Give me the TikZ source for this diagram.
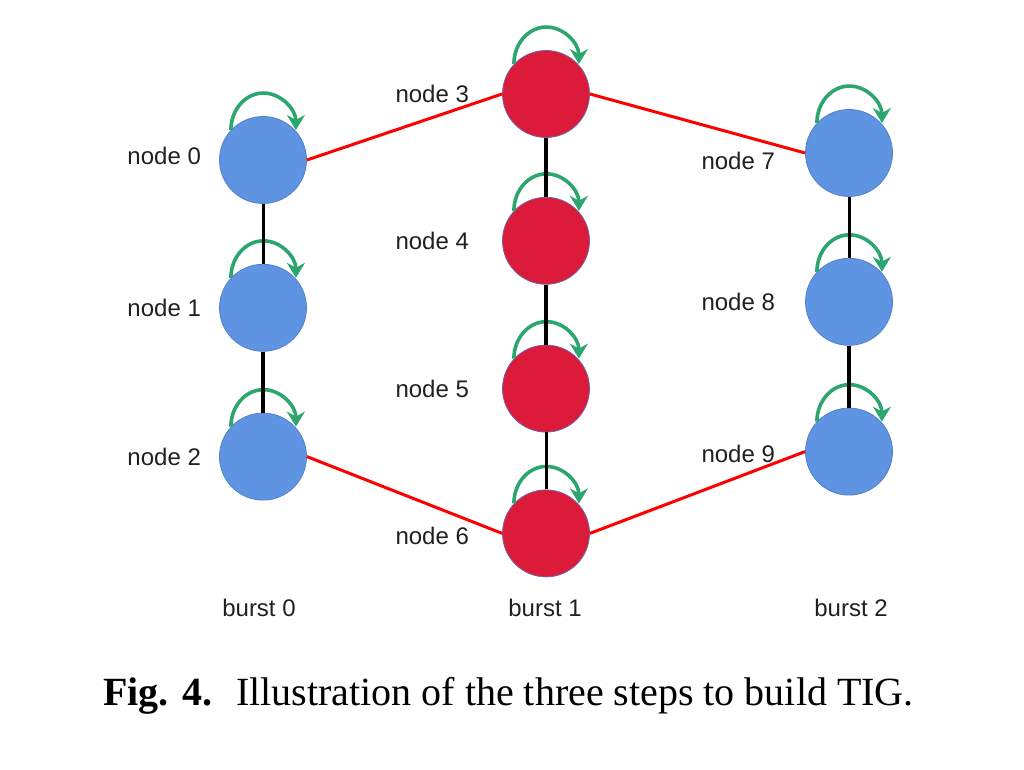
\documentclass[tikz,border=0pt]{standalone}
\usepackage{fontspec}
\setmainfont{Liberation Serif}
\newfontfamily\arialfont{Liberation Sans}
\usetikzlibrary{arrows.meta,positioning}

\definecolor{burstblue}{RGB}{94,148,226}
\definecolor{burstblueedge}{RGB}{82,128,205}
\definecolor{burstred}{RGB}{220,27,58}
\definecolor{burstrededge}{RGB}{112,100,160}
\definecolor{loopgreen}{RGB}{44,166,110}
\definecolor{labelgray}{RGB}{32,32,32}

\begin{document}
\begin{tikzpicture}[x=1pt,y=1pt,
node distance=60pt,
bluenode/.style={
  circle,
  minimum size=87pt,
  inner sep=0pt,
  fill=burstblue,
  draw=burstblueedge,
  line width=0.8pt
},
rednode/.style={
  circle,
  minimum size=87pt,
  inner sep=0pt,
  fill=burstred,
  draw=burstrededge,
  line width=0.8pt
},
lbl/.style={
  font=\arialfont\fontsize{24}{28}\selectfont,
  text=labelgray,
  inner sep=0pt
},
selfloop/.style={
  draw=loopgreen,
  line width=3.6pt,
  -{Stealth[length=15pt,width=18pt]}
},
vlink/.style={
  line width=3pt,
  black
},
vlinkthick/.style={
  line width=4.5pt,
  black
},
redlink/.style={
  line width=3pt,
  red
}]
\useasboundingbox (0,0) rectangle (1024,770);

% burst 0
\node[bluenode] (n0) at (263,610) {};
\node[bluenode] (n1) [below=of n0] {};
\node[bluenode] (n2) [below=61pt of n1] {};
% burst 1
\node[rednode] (n3) at (546,676) {};
\node[rednode] (n4) [below=59pt of n3] {};
\node[rednode] (n5) [below=of n4] {};
\node[rednode] (n6) [below=57pt of n5] {};
% burst 2
\node[bluenode] (n7) at (849,617) {};
\node[bluenode] (n8) [below=61pt of n7] {};
\node[bluenode] (n9) [below=62pt of n8] {};

% node labels
\node[lbl] (l0) [left=18pt of n0, yshift=4pt] {node 0};
\node[lbl] (l1) [left=18pt of n1] {node 1};
\node[lbl] (l2) [left=18pt of n2] {node 2};
\node[lbl] (l3) [left=33pt of n3] {node 3};
\node[lbl] (l4) [left=33pt of n4] {node 4};
\node[lbl] (l5) [left=33pt of n5] {node 5};
\node[lbl] (l6) [left=33pt of n6, yshift=-3pt] {node 6};
\node[lbl] (l7) [left=30pt of n7, yshift=-8pt] {node 7};
\node[lbl] (l8) [left=30pt of n8] {node 8};
\node[lbl] (l9) [left=30pt of n9, yshift=-2pt] {node 9};

% self loops
\foreach \i in {0,...,9}
  \draw[selfloop] (n\i.137) arc[start angle=180, end angle=0, x radius=32.5pt, y radius=37pt];

% links inside a burst
\draw[vlink] (n0) -- (n1);
\draw[vlinkthick] (n1) -- (n2);
\draw[vlinkthick] (n3) -- (n4);
\draw[vlinkthick] (n4) -- (n5);
\draw[vlink] (n5) -- (n6);
\draw[vlink] (n7) -- (n8);
\draw[vlinkthick] (n8) -- (n9);

% links between bursts
\draw[redlink] (n0.east) -- (n3.west);
\draw[redlink] (n3.east) -- (n7.west);
\draw[redlink] (n2.east) -- (n6.west);
\draw[redlink] (n6.east) -- (n9.west);

% burst names
\node[lbl] (b0) at (259,162) {burst 0};
\node[lbl] (b1) at (545,162) {burst 1};
\node[lbl] (b2) at (851,162) {burst 2};

% caption
\node (cap) at (508.5,74) {\fontsize{40}{45}\selectfont\textbf{Fig. 4.}\hspace{0.6em}Illustration of the three steps to build TIG.};
\end{tikzpicture}
\end{document}
